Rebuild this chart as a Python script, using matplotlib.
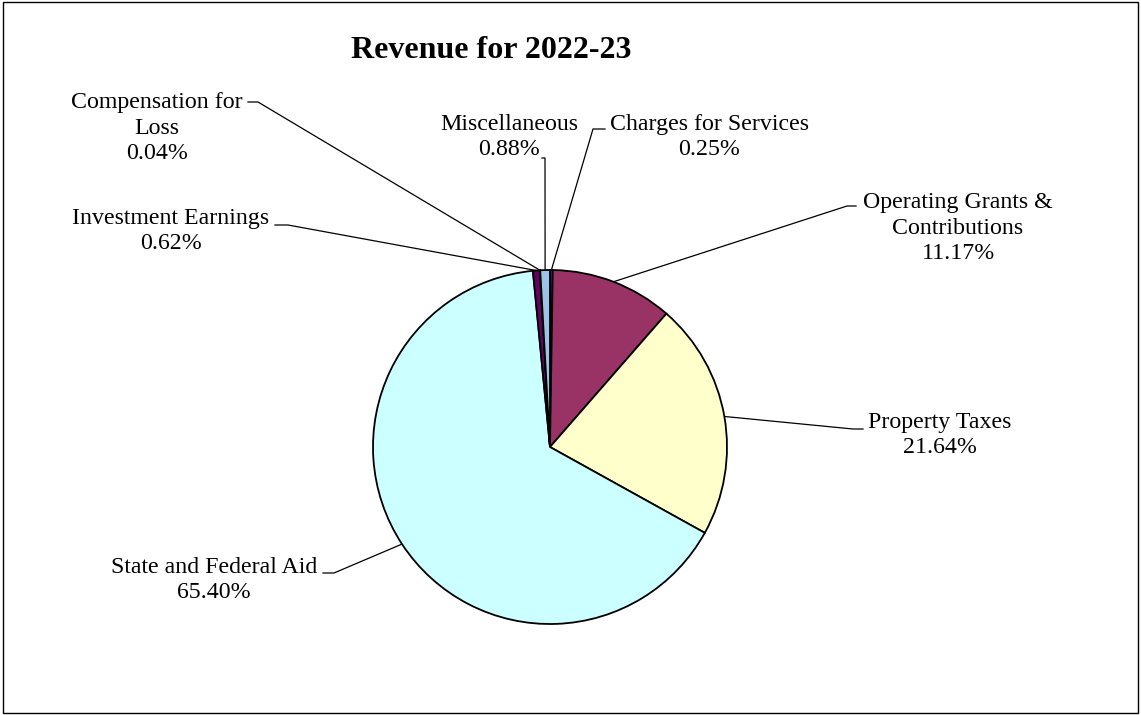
import matplotlib.pyplot as plt
from matplotlib.patches import Rectangle
import numpy as np

plt.rcParams['font.family'] = ['Liberation Serif', 'DejaVu Serif']

# revenue shares, in pie order (clockwise from 12 o'clock)
categories = ["Charges for Services", "Operating Grants &\nContributions", "Property Taxes",
              "State and Federal Aid", "Investment Earnings", "Compensation for\nLoss",
              "Miscellaneous"]
shares = [0.25, 11.17, 21.64, 65.40, 0.62, 0.04, 0.88]
colors = ["#333399", "#993366", "#FFFFCC", "#CCFFFF", "#660066", "#FF8080", "#9DC3E6"]

W, H = 1141, 715
# label placement in pixel space: text centre, elbow point, elbow direction
text_pos = [(709, 137), (958, 228), (940, 435), (214, 580), (171, 231), (157, 128), (509, 137)]
elbows = [(593, 129), (847, 206), (853, 429), (334, 573), (288, 225), (258, 102), (545, 158)]
elbow_dx = [12, 9, 10, -11, -13, -10, -3]

fig = plt.figure(figsize=(W / 100, H / 100), dpi=100)
ax = fig.add_axes([0, 0, 1, 1])

cx, cy, r = 550, H - 447, 177
wedges, _ = ax.pie(shares, colors=colors, startangle=90, counterclock=False,
                   center=(cx, cy), radius=r,
                   wedgeprops=dict(edgecolor='black', linewidth=1.3))
ax.set_xlim(0, W)
ax.set_ylim(0, H)
ax.set_aspect('equal')
ax.axis('off')

for w, name, val, (tx, ty), (ex, ey), dx in zip(wedges, categories, shares,
                                                text_pos, elbows, elbow_dx):
    mid = np.deg2rad((w.theta1 + w.theta2) / 2)
    px, py = cx + r * np.cos(mid), cy + r * np.sin(mid)
    ey = H - ey
    ax.plot([px, ex, ex + dx], [py, ey, ey], color='black', lw=0.9, zorder=0)
    ax.text(tx, H - ty, f"{name}\n{val:.2f}%", ha='center', va='center',
            multialignment='center', fontsize=17.2, linespacing=1.3)

fig.text(491 / W, 1 - 50 / H, "Revenue for 2022-23", ha='center', va='center',
         fontsize=23, fontweight='bold')

fig.patches.append(Rectangle((3 / W, 2 / H), 1 - 6 / W, 1 - 4 / H,
                             transform=fig.transFigure, fill=False,
                             edgecolor='black', lw=1))

fig.savefig("out.png", dpi=100)
